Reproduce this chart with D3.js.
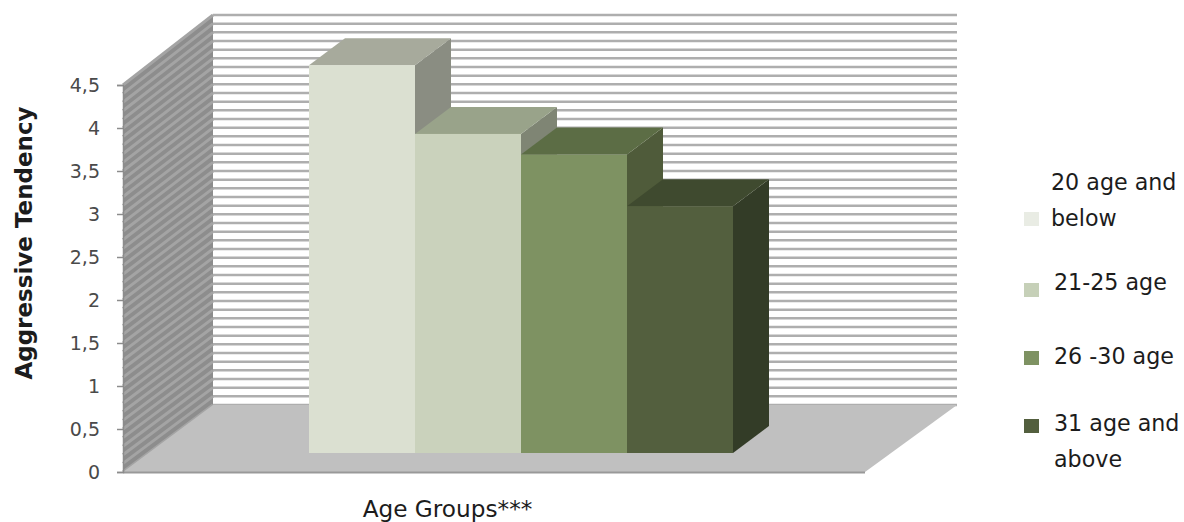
<!DOCTYPE html>
<html>
<head>
<meta charset="utf-8">
<script src="https://d3js.org/d3.v7.min.js"></script>
<style>
  body { margin: 0; background: #fff; }
  text { font-family: "DejaVu Sans", sans-serif; fill: #1c1c1c; }
  .domain, .tick line { stroke: #8c8c8c; }
</style>
</head>
<body>
<div id="my_dataviz"></div>
<script>
// values and labels
var categories = ["20 age and below", "21-25 age", "26 -30 age", "31 age and above"]
var values = [4.51, 3.71, 3.47, 2.87]
var tickValues = [0, 0.5, 1, 1.5, 2, 2.5, 3, 3.5, 4, 4.5]
var frontColors = ["#dbe0d1", "#cad2bc", "#7e9262", "#535f3e"]
var topColors = ["#a7aa9c", "#99a38a", "#5c6d45", "#3f4a2f"]
var sideColors = ["#8a8d82", "#7f8574", "#4f5b3a", "#333c27"]
var legendColors = ["#e9ece4", "#c6d0b8", "#7e9262", "#535f3e"]
var legendLines = [["20 age and", "below"], ["21-25 age"], ["26 -30 age"], ["31 age and", "above"]]

var width = 1184, height = 522
var left = 123, right = 865, bottom = 472, top_ = 85
// how far the box recedes, and how far the bars sit inside it
var depthX = 90, depthY = 67, wallHeight = 390
var barInsetX = 27, barInsetY = 19, barDepthX = 36, barDepthY = 27

var svg = d3.select("#my_dataviz").append("svg")
  .attr("width", width)
  .attr("height", height)
  .style("display", "block")

var y = d3.scaleLinear().domain([0, 4.5]).range([bottom, top_])
var yWall = d3.scaleLinear().domain([0, 4.5]).range([bottom - depthY, bottom - depthY - wallHeight])
var x = d3.scaleBand().domain(categories).range([left, right]).paddingInner(0).paddingOuter(1.5)

var gridValues = d3.range(0, 46).map(function(d) { return d / 10 })
var wallRight = right + depthX + 2

// side wall
svg.append("polygon")
  .attr("points", [[left, bottom], [left + depthX, bottom - depthY], [left + depthX, yWall(4.5)], [left, top_]].join(" "))
  .attr("fill", "#8d8d8d")
svg.selectAll(".sideLine").data(gridValues).enter().append("line")
  .attr("x1", left)
  .attr("y1", function(d) { return y(d) })
  .attr("x2", left + depthX)
  .attr("y2", function(d) { return yWall(d) })
  .attr("stroke", "#a4a4a4")
  .attr("stroke-width", 3)

// back wall lines
svg.selectAll(".gridLine").data(gridValues).enter().append("line")
  .attr("x1", left + depthX)
  .attr("x2", wallRight)
  .attr("y1", function(d) { return yWall(d) })
  .attr("y2", function(d) { return yWall(d) })
  .attr("stroke", "#aeaeae")
  .attr("stroke-width", 2.5)

// floor
svg.append("polygon")
  .attr("points", [[left, bottom], [left + depthX, bottom - depthY], [wallRight, bottom - depthY], [right, bottom]].join(" "))
  .attr("fill", "#c0c0c0")
svg.append("line")
  .attr("x1", left).attr("x2", right)
  .attr("y1", bottom + 0.5).attr("y2", bottom + 0.5)
  .attr("stroke", "#999").attr("stroke-width", 2)

// bars, left to right so each front face covers the previous side face
var bars = svg.selectAll(".bar").data(values).enter().append("g").attr("class", "bar")
function xLeft(i) { return x(categories[i]) + barInsetX }
function yTop(d) { return y(d) - barInsetY }
var baseY = y(0) - barInsetY

bars.append("polygon")
  .attr("points", function(d, i) {
    var x1 = xLeft(i) + x.bandwidth()
    return [[x1, baseY], [x1 + barDepthX, baseY - barDepthY], [x1 + barDepthX, yTop(d) - barDepthY], [x1, yTop(d)]].join(" ")
  })
  .attr("fill", function(d, i) { return sideColors[i] })
bars.append("polygon")
  .attr("points", function(d, i) {
    var x0 = xLeft(i), x1 = x0 + x.bandwidth()
    return [[x0, yTop(d)], [x0 + barDepthX, yTop(d) - barDepthY], [x1 + barDepthX, yTop(d) - barDepthY], [x1, yTop(d)]].join(" ")
  })
  .attr("fill", function(d, i) { return topColors[i] })
bars.append("rect")
  .attr("x", function(d, i) { return xLeft(i) })
  .attr("y", function(d) { return yTop(d) })
  .attr("width", x.bandwidth())
  .attr("height", function(d) { return baseY - yTop(d) })
  .attr("fill", function(d, i) { return frontColors[i] })

// y axis
var axis = svg.append("g")
  .attr("transform", "translate(" + left + ",0)")
  .call(d3.axisLeft(y)
    .tickValues(tickValues)
    .tickSize(6)
    .tickPadding(17)
    .tickFormat(function(d) { return String(d).replace(".", ",") }))
axis.select(".domain").attr("stroke-width", 1.5)
axis.selectAll(".tick line").attr("stroke-width", 1.5)
axis.selectAll("text")
  .style("font-size", "19px")
  .style("fill", "#4a4a4a")

svg.append("text")
  .attr("transform", "translate(32,243)rotate(-90)")
  .attr("text-anchor", "middle")
  .style("font-size", "23px")
  .style("font-weight", "bold")
  .text("Aggressive Tendency")

svg.append("text")
  .attr("x", 447.5)
  .attr("y", 517)
  .attr("text-anchor", "middle")
  .style("font-size", "23.2px")
  .text("Age Groups***")

// legend
var legendSquareY = [212, 283, 351, 419]
var legendTextX = [1051, 1054, 1054, 1054]
var legendBaseline = [190, 290, 364, 431]
var legend = svg.selectAll(".legend").data(legendLines).enter().append("g").attr("class", "legend")
legend.append("rect")
  .attr("x", 1024)
  .attr("y", function(d, i) { return legendSquareY[i] })
  .attr("width", 15)
  .attr("height", 14)
  .attr("fill", function(d, i) { return legendColors[i] })
legend.each(function(lines, i) {
  d3.select(this).selectAll("text").data(lines).enter().append("text")
    .attr("x", legendTextX[i])
    .attr("y", function(d, j) { return legendBaseline[i] + j * 36 })
    .style("font-size", "22.2px")
    .text(function(d) { return d })
})
</script>
</body>
</html>
